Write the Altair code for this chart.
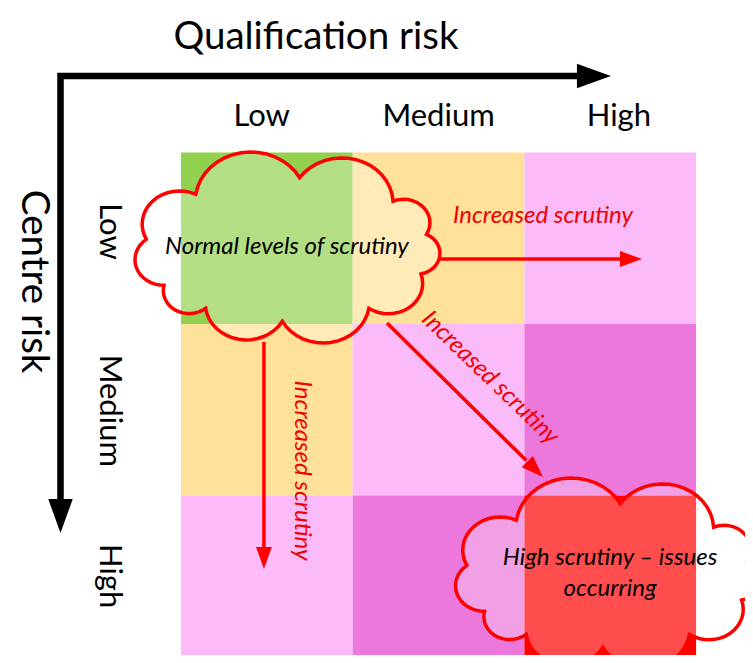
import math
import altair as alt
import pandas as pd

# ---------------- data ----------------
qual_levels = ["Low", "Medium", "High"]
centre_levels = ["Low", "Medium", "High"]
# rows = centre risk (Low..High), columns = qualification risk (Low..High)
cell_colors = [
    ["#92D050", "#FFE19A", "#FBBBF9"],
    ["#FFE19A", "#FBBBF9", "#EC78DC"],
    ["#FBBBF9", "#EC78DC", "#FF0000"],
]
x_title = "Qualification risk"
y_title = "Centre risk"
cloud_labels = ["Normal levels of scrutiny", "High scrutiny – issues\noccurring"]
arrow_label = "Increased scrutiny"

# ---------------- layout (grid units: one cell = 1) ----------------
col_label_x = [0.47, 1.50, 2.55]
col_label_y = -0.207
row_label_x = -0.419
row_label_y = [0.461, 1.506, 2.470]
x_title_pos = (0.786, -0.673)
y_title_pos = (-0.856, 0.753)
cloud_pos = [(0.620, 0.554), (2.487, 2.455)]
cloud_text_pos = [(0.617, 0.551), (2.499, 2.364)]
axis_path = [(2.312, -0.446), (-0.7018, -0.446), (-0.7018, 2.026)]
axis_heads = [(2.504, -0.446, 0), (-0.7018, 2.219, 90)]
red_shafts = [(1.497, 0.621, 2.57, 0.621), (0.483, 1.105, 0.483, 2.31), (1.20, 0.994, 2.01, 1.795)]
red_heads = [(2.685, 0.621, 0), (0.483, 2.429, 90), (2.108, 1.892, 44.6)]
red_label_pos = [(2.108, 0.370, 0), (0.705, 1.854, 90), (1.80, 1.315, 44)]

W, H = 737, 647
xs = alt.Scale(domain=[-173 / 171.7, (W - 173) / 171.7], nice=False, zero=False)
ys = alt.Scale(domain=[-144.5 / 171.5, (H - 144.5) / 171.5], nice=False, zero=False, reverse=True)


def cloud_path(cusp_deg, A=0.9, B=0.82, bulge=0.36, aspect=191 / 305, n=16):
    cusps = [(A * math.cos(math.radians(t)), B * aspect * math.sin(math.radians(t))) for t in cusp_deg]
    pts = []
    m = len(cusps)
    for i in range(m):
        x1, y1 = cusps[i]
        x2, y2 = cusps[(i + 1) % m]
        dx, dy = x2 - x1, y2 - y1
        c = math.hypot(dx, dy)
        nx, ny = dy / c, -dx / c
        h = bulge * c
        R = (c * c / 4 + h * h) / (2 * h)
        mx, my = (x1 + x2) / 2, (y1 + y2) / 2
        ox, oy = mx - nx * (R - h), my - ny * (R - h)
        a1 = math.atan2(y1 - oy, x1 - ox)
        delta = 2 * math.asin(min(1.0, c / (2 * R)))
        for k in range(n):
            a = a1 + delta * k / n
            pts.append((ox + R * math.cos(a), oy + R * math.sin(a)))
    xmin = min(p[0] for p in pts); xmax = max(p[0] for p in pts)
    ymin = min(p[1] for p in pts); ymax = max(p[1] for p in pts)
    cx, cy = (xmin + xmax) / 2, (ymin + ymax) / 2
    sx, sy = 2 / (xmax - xmin), 2 * aspect / (ymax - ymin)
    s = "M" + " L".join(f"{(x - cx) * sx:.4f},{(y - cy) * sy:.4f}" for x, y in pts) + " Z"
    return s


CLOUD = cloud_path([-172, -130, -85, -42, -12, 20, 55, 92, 125, 150])
HEAD = "M0,0 L-1,-0.36 L-1,0.36 Z"
FONT = "Lato"

# ---------------- tables ----------------
cells = pd.DataFrame([
    {"qual": q, "centre": c, "x0": i, "x1": i + 1, "y0": j, "y1": j + 1, "color": cell_colors[j][i]}
    for j, c in enumerate(centre_levels) for i, q in enumerate(qual_levels)
])
clouds = pd.DataFrame([{"x": p[0], "y": p[1]} for p in cloud_pos])
cloud_text_df = pd.DataFrame([{"x": p[0], "y": p[1], "label": l} for p, l in zip(cloud_text_pos, cloud_labels)])
axis_df = pd.DataFrame([{"x": p[0], "y": p[1], "k": k} for k, p in enumerate(axis_path)])
axis_head_df = pd.DataFrame([{"x": a, "y": b, "angle": g} for a, b, g in axis_heads])
shaft_df = pd.DataFrame([{"x": a, "y": b, "x2": c, "y2": d} for a, b, c, d in red_shafts])
red_head_df = pd.DataFrame([{"x": a, "y": b, "angle": g} for a, b, g in red_heads])
red_label_df = pd.DataFrame([{"x": a, "y": b, "angle": g, "label": arrow_label} for a, b, g in red_label_pos])
col_df = pd.DataFrame([{"x": x, "y": col_label_y, "label": l} for x, l in zip(col_label_x, qual_levels)])
row_df = pd.DataFrame([{"x": row_label_x, "y": y, "label": l} for y, l in zip(row_label_y, centre_levels)])
title_df = pd.DataFrame([
    {"x": x_title_pos[0], "y": x_title_pos[1], "label": x_title, "angle": 0},
    {"x": y_title_pos[0], "y": y_title_pos[1], "label": y_title, "angle": 90},
])

X = lambda f: alt.X(f, scale=xs, axis=None)
Y = lambda f: alt.Y(f, scale=ys, axis=None)

cell_layer = alt.Chart(cells).mark_rect().encode(
    x=X("x0:Q"), x2="x1", y=Y("y0:Q"), y2="y1", color=alt.Color("color:N", scale=None)
)
cloud_layer = alt.Chart(clouds).mark_point(
    shape=CLOUD, size=305 ** 2, filled=True, fill="white", fillOpacity=0.3,
    stroke="#FF0000", strokeWidth=3.5, opacity=1
).encode(x=X("x:Q"), y=Y("y:Q"))
axis_layer = alt.Chart(axis_df).mark_line(
    color="black", strokeWidth=6.5, strokeJoin="miter", strokeCap="butt"
).encode(x=X("x:Q"), y=Y("y:Q"), order="k:Q")
axis_head_layer = alt.Chart(axis_head_df).mark_point(
    shape=HEAD, size=68 ** 2, filled=True, color="black", opacity=1
).encode(x=X("x:Q"), y=Y("y:Q"), angle=alt.Angle("angle:Q", scale=None))
shaft_layer = alt.Chart(shaft_df).mark_rule(color="#FF0000", strokeWidth=3.5).encode(
    x=X("x:Q"), y=Y("y:Q"), x2="x2", y2="y2"
)
red_head_layer = alt.Chart(red_head_df).mark_point(
    shape=HEAD, size=44 ** 2, filled=True, color="#FF0000", opacity=1
).encode(x=X("x:Q"), y=Y("y:Q"), angle=alt.Angle("angle:Q", scale=None))
red_label_layer = alt.Chart(red_label_df).mark_text(
    font=FONT, fontSize=24, fontStyle="italic", color="#F00000", align="center", baseline="middle"
).encode(x=X("x:Q"), y=Y("y:Q"), text="label:N", angle=alt.Angle("angle:Q", scale=None))
cloud_text_layer = alt.Chart(cloud_text_df).mark_text(
    font=FONT, fontSize=24, fontStyle="italic", color="black", align="center", baseline="middle",
    lineBreak="\n", lineHeight=31
).encode(x=X("x:Q"), y=Y("y:Q"), text="label:N")
col_layer = alt.Chart(col_df).mark_text(
    font=FONT, fontSize=31, color="black", align="center", baseline="middle"
).encode(x=X("x:Q"), y=Y("y:Q"), text="label:N")
row_layer = alt.Chart(row_df).mark_text(
    font=FONT, fontSize=31, color="black", align="center", baseline="middle", angle=90
).encode(x=X("x:Q"), y=Y("y:Q"), text="label:N")
title_layer = alt.Chart(title_df).mark_text(
    font=FONT, fontSize=38.5, color="black", align="center", baseline="middle"
).encode(x=X("x:Q"), y=Y("y:Q"), text="label:N", angle=alt.Angle("angle:Q", scale=None))

chart = alt.layer(
    cell_layer, cloud_layer, axis_layer, axis_head_layer, shaft_layer, red_head_layer,
    red_label_layer, cloud_text_layer, col_layer, row_layer, title_layer
).properties(
    width=W, height=H, padding=0, autosize=alt.AutoSizeParams(type="none")
).configure_view(stroke=None)

chart.save("out.html", embed_options={"renderer": "svg", "actions": False})
